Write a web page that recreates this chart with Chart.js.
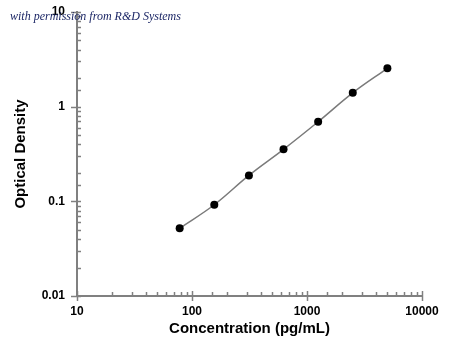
<!DOCTYPE html>
<html>
<head>
<meta charset="utf-8">
<script src="https://cdn.jsdelivr.net/npm/chart.js@4"></script>
<style>
  html, body { margin: 0; padding: 0; background: #fff; }
  #wrap { width: 450px; height: 350px; position: relative; }
</style>
</head>
<body>
<div id="wrap"><canvas id="c" width="450" height="350"></canvas></div>
<script>
const concentrations = [78.125, 156.25, 312.5, 625, 1250, 2500, 5000];
const opticalDensity = [0.052, 0.092, 0.188, 0.354, 0.693, 1.40, 2.54];
const xTickLabels = ['10', '100', '1000', '10000'];
const yTickLabels = ['0.01', '0.1', '1', '10'];
const xTitle = 'Concentration (pg/mL)';
const yTitle = 'Optical Density';
const watermark = 'with permission from R&D Systems';

const axisColor = '#808080';
const fontFamily = '"Liberation Sans", Arial, sans-serif';

function isMajor(v) {
  const l = Math.log10(v);
  return Math.abs(l - Math.round(l)) < 1e-9;
}

const tickPlugin = {
  id: 'customTicks',
  afterDraw(chart) {
    const ctx = chart.ctx;
    const xs = chart.scales.x, ys = chart.scales.y;
    const area = chart.chartArea;
    ctx.save();
    ctx.strokeStyle = axisColor;
    ctx.lineWidth = 1.5;
    ys.ticks.forEach(t => {
      const py = Math.round(ys.getPixelForValue(t.value)) + 0.5;
      ctx.beginPath();
      if (isMajor(t.value)) { ctx.moveTo(area.left - 6, py); ctx.lineTo(area.left + 4, py); }
      else { ctx.moveTo(area.left, py); ctx.lineTo(area.left + 4, py); }
      ctx.stroke();
    });
    xs.ticks.forEach(t => {
      const px = Math.round(xs.getPixelForValue(t.value)) + 0.5;
      ctx.beginPath();
      if (isMajor(t.value)) { ctx.moveTo(px, area.bottom - 5); ctx.lineTo(px, area.bottom + 5); }
      else { ctx.moveTo(px, area.bottom); ctx.lineTo(px, area.bottom - 4); }
      ctx.stroke();
    });
    ctx.fillStyle = '#1c2766';
    ctx.font = 'italic 12px "Liberation Serif", "DejaVu Serif", serif';
    ctx.textBaseline = 'alphabetic';
    ctx.textAlign = 'left';
    ctx.fillText(watermark, 10, 20);
    ctx.restore();
  }
};

new Chart(document.getElementById('c'), {
  type: 'scatter',
  data: {
    datasets: [{
      data: concentrations.map((x, i) => ({ x: x, y: opticalDensity[i] })),
      showLine: true,
      tension: 0.4,
      borderColor: '#7a7a7a',
      borderWidth: 1.5,
      pointRadius: 4,
      pointBackgroundColor: '#000',
      pointBorderColor: '#000',
      pointBorderWidth: 0
    }]
  },
  options: {
    responsive: false,
    animation: false,
    devicePixelRatio: 1,
    layout: { padding: { top: 12, right: 28, left: 0, bottom: 0 } },
    plugins: { legend: { display: false }, tooltip: { enabled: false } },
    scales: {
      x: {
        type: 'logarithmic',
        min: 10, max: 10000,
        afterFit(s) { s.height = 54; s.paddingLeft = 0; s.paddingRight = 0; },
        grid: { display: true, drawOnChartArea: false, drawTicks: false, color: 'rgba(0,0,0,0)' },
        border: { display: true, color: axisColor, width: 2 },
        ticks: {
          autoSkip: false, maxRotation: 0, padding: 8,
          color: '#000',
          font: { family: fontFamily, size: 12, weight: 'bold' },
          callback(v) { return isMajor(v) ? xTickLabels[Math.round(Math.log10(v)) - 1] : ''; }
        },
        title: {
          display: true, text: xTitle, color: '#000',
          font: { family: fontFamily, size: 15, weight: 'bold' },
          padding: { top: 0, bottom: 12 }
        }
      },
      y: {
        type: 'logarithmic',
        min: 0.01, max: 10,
        afterFit(s) { s.width = 77; s.paddingTop = 0; s.paddingBottom = 0; },
        grid: { display: true, drawOnChartArea: false, drawTicks: false, color: 'rgba(0,0,0,0)' },
        border: { display: true, color: axisColor, width: 2 },
        ticks: {
          autoSkip: false, padding: 12,
          color: '#000',
          font: { family: fontFamily, size: 12, weight: 'bold' },
          callback(v) { return isMajor(v) ? yTickLabels[Math.round(Math.log10(v)) + 2] : ''; }
        },
        title: {
          display: true, text: yTitle, color: '#000',
          font: { family: fontFamily, size: 15, weight: 'bold' },
          padding: { top: 12, bottom: 0 }
        }
      }
    }
  },
  plugins: [tickPlugin]
});
</script>
</body>
</html>
